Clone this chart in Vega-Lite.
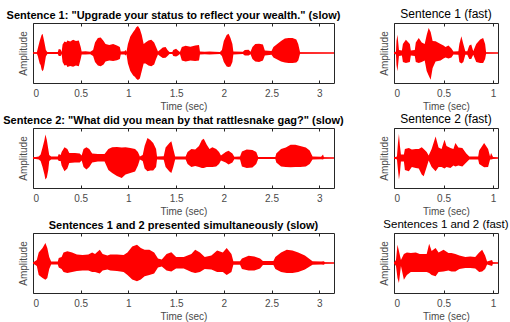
{
"$schema": "https://vega.github.io/schema/vega-lite/v6.json",
"padding": {"left": 2, "top": 7, "right": 0, "bottom": 0},
"background": "white",
"config": {
  "font": "Liberation Sans",
  "view": {"stroke": "#262626", "strokeWidth": 1},
  "axis": {"grid": false, "domain": false, "format": "~g", "labelFont": "Liberation Sans", "titleFont": "Liberation Sans", "labelFontSize": 10, "titleFontSize": 10, "titleFontWeight": "normal", "labelColor": "#4a4a4a", "titleColor": "#4a4a4a", "tickColor": "#262626", "tickSize": -3, "labelPadding": 8, "titlePadding": 3},
  "title": {"font": "Liberation Sans", "color": "#000000", "offset": 2}
},
"datasets": {
"s1": [
{"t":0,"hi":0.02,"lo":-0.02},{"t":0.04,"hi":0.02,"lo":-0.02},{"t":0.05,"hi":0.15,"lo":-0.1},{"t":0.07,"hi":0.4,"lo":-0.35},{"t":0.08,"hi":0.5,"lo":-0.4},{"t":0.09,"hi":0.6,"lo":-0.55},{"t":0.1,"hi":0.64,"lo":-0.61},{"t":0.11,"hi":0.5,"lo":-0.55},{"t":0.12,"hi":0.35,"lo":-0.4},{"t":0.135,"hi":0.1,"lo":-0.12},{"t":0.15,"hi":0.03,"lo":-0.03},{"t":0.26,"hi":0.03,"lo":-0.03},{"t":0.27,"hi":0.13,"lo":-0.1},{"t":0.29,"hi":0.12,"lo":-0.1},{"t":0.3,"hi":0.03,"lo":-0.03},{"t":0.31,"hi":0.28,"lo":-0.3},{"t":0.33,"hi":0.38,"lo":-0.42},{"t":0.35,"hi":0.36,"lo":-0.4},{"t":0.36,"hi":0.42,"lo":-0.47},{"t":0.39,"hi":0.38,"lo":-0.43},{"t":0.42,"hi":0.44,"lo":-0.46},{"t":0.45,"hi":0.4,"lo":-0.42},{"t":0.48,"hi":0.42,"lo":-0.44},{"t":0.5,"hi":0.2,"lo":-0.2},{"t":0.51,"hi":0.05,"lo":-0.05},{"t":0.55,"hi":0.06,"lo":-0.05},{"t":0.6,"hi":0.04,"lo":-0.04},{"t":0.63,"hi":0.1,"lo":-0.1},{"t":0.65,"hi":0.35,"lo":-0.3},{"t":0.68,"hi":0.5,"lo":-0.42},{"t":0.71,"hi":0.52,"lo":-0.44},{"t":0.74,"hi":0.4,"lo":-0.38},{"t":0.76,"hi":0.3,"lo":-0.28},{"t":0.8,"hi":0.27,"lo":-0.25},{"t":0.84,"hi":0.3,"lo":-0.27},{"t":0.88,"hi":0.25,"lo":-0.24},{"t":0.91,"hi":0.2,"lo":-0.2},{"t":0.92,"hi":0.05,"lo":-0.05},{"t":0.96,"hi":0.06,"lo":-0.05},{"t":0.97,"hi":0.1,"lo":-0.08},{"t":0.98,"hi":0.04,"lo":-0.04},{"t":0.995,"hi":0.3,"lo":-0.35},{"t":1.02,"hi":0.55,"lo":-0.6},{"t":1.05,"hi":0.7,"lo":-0.75},{"t":1.07,"hi":0.78,"lo":-0.8},{"t":1.08,"hi":0.85,"lo":-0.85},{"t":1.1,"hi":0.9,"lo":-0.9},{"t":1.12,"hi":0.8,"lo":-0.85},{"t":1.14,"hi":0.6,"lo":-0.6},{"t":1.16,"hi":0.3,"lo":-0.35},{"t":1.18,"hi":0.35,"lo":-0.35},{"t":1.21,"hi":0.42,"lo":-0.42},{"t":1.24,"hi":0.44,"lo":-0.44},{"t":1.27,"hi":0.35,"lo":-0.38},{"t":1.29,"hi":0.2,"lo":-0.2},{"t":1.31,"hi":0.05,"lo":-0.05},{"t":1.33,"hi":0.1,"lo":-0.1},{"t":1.36,"hi":0.18,"lo":-0.17},{"t":1.39,"hi":0.2,"lo":-0.16},{"t":1.41,"hi":0.1,"lo":-0.1},{"t":1.43,"hi":0.03,"lo":-0.03},{"t":1.46,"hi":0.03,"lo":-0.03},{"t":1.47,"hi":0.1,"lo":-0.1},{"t":1.5,"hi":0.14,"lo":-0.12},{"t":1.52,"hi":0.08,"lo":-0.08},{"t":1.54,"hi":0.03,"lo":-0.03},{"t":1.56,"hi":0.2,"lo":-0.25},{"t":1.6,"hi":0.24,"lo":-0.28},{"t":1.65,"hi":0.21,"lo":-0.25},{"t":1.7,"hi":0.25,"lo":-0.27},{"t":1.74,"hi":0.27,"lo":-0.25},{"t":1.75,"hi":0.05,"lo":-0.05},{"t":1.8,"hi":0.04,"lo":-0.04},{"t":1.85,"hi":0.05,"lo":-0.05},{"t":1.9,"hi":0.04,"lo":-0.04},{"t":1.96,"hi":0.03,"lo":-0.03},{"t":1.98,"hi":0.1,"lo":-0.1},{"t":2.0,"hi":0.4,"lo":-0.3},{"t":2.03,"hi":0.6,"lo":-0.45},{"t":2.05,"hi":0.64,"lo":-0.47},{"t":2.07,"hi":0.5,"lo":-0.45},{"t":2.09,"hi":0.3,"lo":-0.3},{"t":2.1,"hi":0.05,"lo":-0.05},{"t":2.2,"hi":0.04,"lo":-0.03},{"t":2.22,"hi":0.1,"lo":-0.08},{"t":2.26,"hi":0.11,"lo":-0.08},{"t":2.28,"hi":0.04,"lo":-0.04},{"t":2.3,"hi":0.2,"lo":-0.2},{"t":2.33,"hi":0.3,"lo":-0.28},{"t":2.37,"hi":0.31,"lo":-0.3},{"t":2.41,"hi":0.28,"lo":-0.25},{"t":2.43,"hi":0.08,"lo":-0.08},{"t":2.5,"hi":0.07,"lo":-0.06},{"t":2.52,"hi":0.2,"lo":-0.15},{"t":2.56,"hi":0.3,"lo":-0.22},{"t":2.6,"hi":0.4,"lo":-0.28},{"t":2.64,"hi":0.48,"lo":-0.32},{"t":2.68,"hi":0.5,"lo":-0.33},{"t":2.72,"hi":0.5,"lo":-0.33},{"t":2.76,"hi":0.45,"lo":-0.32},{"t":2.78,"hi":0.3,"lo":-0.25},{"t":2.8,"hi":0.02,"lo":-0.02},{"t":3.155,"hi":0.0,"lo":0.0}
],
"s2": [
{"t":0,"hi":0.02,"lo":-0.02},{"t":0.06,"hi":0.05,"lo":-0.05},{"t":0.08,"hi":0.12,"lo":-0.1},{"t":0.1,"hi":0.35,"lo":-0.3},{"t":0.12,"hi":0.6,"lo":-0.55},{"t":0.13,"hi":0.78,"lo":-0.72},{"t":0.145,"hi":0.6,"lo":-0.65},{"t":0.16,"hi":0.3,"lo":-0.4},{"t":0.17,"hi":0.1,"lo":-0.1},{"t":0.19,"hi":0.05,"lo":-0.05},{"t":0.26,"hi":0.05,"lo":-0.05},{"t":0.27,"hi":0.13,"lo":-0.1},{"t":0.29,"hi":0.1,"lo":-0.1},{"t":0.3,"hi":0.2,"lo":-0.25},{"t":0.33,"hi":0.36,"lo":-0.44},{"t":0.36,"hi":0.3,"lo":-0.35},{"t":0.38,"hi":0.17,"lo":-0.17},{"t":0.44,"hi":0.17,"lo":-0.15},{"t":0.49,"hi":0.15,"lo":-0.15},{"t":0.51,"hi":0.08,"lo":-0.08},{"t":0.53,"hi":0.3,"lo":-0.3},{"t":0.56,"hi":0.36,"lo":-0.38},{"t":0.59,"hi":0.3,"lo":-0.3},{"t":0.62,"hi":0.15,"lo":-0.15},{"t":0.68,"hi":0.13,"lo":-0.12},{"t":0.75,"hi":0.13,"lo":-0.12},{"t":0.79,"hi":0.3,"lo":-0.4},{"t":0.83,"hi":0.36,"lo":-0.5},{"t":0.88,"hi":0.37,"lo":-0.6},{"t":0.93,"hi":0.35,"lo":-0.67},{"t":0.97,"hi":0.36,"lo":-0.55},{"t":1.02,"hi":0.33,"lo":-0.5},{"t":1.07,"hi":0.3,"lo":-0.45},{"t":1.1,"hi":0.2,"lo":-0.25},{"t":1.12,"hi":0.05,"lo":-0.05},{"t":1.15,"hi":0.1,"lo":-0.1},{"t":1.17,"hi":0.4,"lo":-0.35},{"t":1.2,"hi":0.67,"lo":-0.44},{"t":1.23,"hi":0.6,"lo":-0.42},{"t":1.26,"hi":0.5,"lo":-0.42},{"t":1.29,"hi":0.3,"lo":-0.3},{"t":1.3,"hi":0.05,"lo":-0.05},{"t":1.37,"hi":0.06,"lo":-0.06},{"t":1.39,"hi":0.35,"lo":-0.3},{"t":1.43,"hi":0.5,"lo":-0.45},{"t":1.45,"hi":0.56,"lo":-0.5},{"t":1.47,"hi":0.3,"lo":-0.3},{"t":1.49,"hi":0.05,"lo":-0.05},{"t":1.6,"hi":0.05,"lo":-0.05},{"t":1.62,"hi":0.2,"lo":-0.2},{"t":1.66,"hi":0.3,"lo":-0.3},{"t":1.7,"hi":0.28,"lo":-0.27},{"t":1.74,"hi":0.4,"lo":-0.3},{"t":1.77,"hi":0.6,"lo":-0.33},{"t":1.79,"hi":0.64,"lo":-0.33},{"t":1.82,"hi":0.45,"lo":-0.3},{"t":1.85,"hi":0.3,"lo":-0.3},{"t":1.88,"hi":0.36,"lo":-0.3},{"t":1.92,"hi":0.3,"lo":-0.28},{"t":1.95,"hi":0.2,"lo":-0.2},{"t":1.97,"hi":0.08,"lo":-0.08},{"t":2.02,"hi":0.2,"lo":-0.15},{"t":2.05,"hi":0.24,"lo":-0.22},{"t":2.09,"hi":0.15,"lo":-0.15},{"t":2.11,"hi":0.04,"lo":-0.04},{"t":2.17,"hi":0.05,"lo":-0.05},{"t":2.19,"hi":0.22,"lo":-0.28},{"t":2.24,"hi":0.28,"lo":-0.33},{"t":2.3,"hi":0.27,"lo":-0.32},{"t":2.34,"hi":0.2,"lo":-0.2},{"t":2.36,"hi":0.03,"lo":-0.03},{"t":2.54,"hi":0.03,"lo":-0.03},{"t":2.55,"hi":0.15,"lo":-0.15},{"t":2.6,"hi":0.3,"lo":-0.28},{"t":2.65,"hi":0.35,"lo":-0.3},{"t":2.7,"hi":0.44,"lo":-0.31},{"t":2.75,"hi":0.44,"lo":-0.3},{"t":2.8,"hi":0.4,"lo":-0.3},{"t":2.86,"hi":0.35,"lo":-0.28},{"t":2.9,"hi":0.25,"lo":-0.2},{"t":2.93,"hi":0.05,"lo":-0.05},{"t":3.02,"hi":0.04,"lo":-0.04},{"t":3.04,"hi":0.12,"lo":-0.05},{"t":3.05,"hi":0.02,"lo":-0.02},{"t":3.155,"hi":0.0,"lo":0.0}
],
"s3": [
{"t":0,"hi":0.02,"lo":-0.02},{"t":0.04,"hi":0.1,"lo":-0.1},{"t":0.06,"hi":0.35,"lo":-0.4},{"t":0.1,"hi":0.5,"lo":-0.5},{"t":0.13,"hi":0.67,"lo":-0.56},{"t":0.15,"hi":0.5,"lo":-0.5},{"t":0.17,"hi":0.2,"lo":-0.2},{"t":0.19,"hi":0.05,"lo":-0.05},{"t":0.26,"hi":0.05,"lo":-0.05},{"t":0.27,"hi":0.17,"lo":-0.15},{"t":0.3,"hi":0.2,"lo":-0.2},{"t":0.32,"hi":0.35,"lo":-0.3},{"t":0.36,"hi":0.39,"lo":-0.33},{"t":0.41,"hi":0.35,"lo":-0.3},{"t":0.46,"hi":0.28,"lo":-0.27},{"t":0.52,"hi":0.27,"lo":-0.25},{"t":0.58,"hi":0.28,"lo":-0.25},{"t":0.62,"hi":0.35,"lo":-0.3},{"t":0.65,"hi":0.3,"lo":-0.3},{"t":0.7,"hi":0.44,"lo":-0.35},{"t":0.73,"hi":0.3,"lo":-0.25},{"t":0.78,"hi":0.25,"lo":-0.22},{"t":0.81,"hi":0.28,"lo":-0.25},{"t":0.88,"hi":0.28,"lo":-0.27},{"t":0.95,"hi":0.27,"lo":-0.3},{"t":0.99,"hi":0.35,"lo":-0.4},{"t":1.04,"hi":0.55,"lo":-0.55},{"t":1.09,"hi":0.61,"lo":-0.61},{"t":1.13,"hi":0.5,"lo":-0.55},{"t":1.17,"hi":0.44,"lo":-0.44},{"t":1.22,"hi":0.44,"lo":-0.4},{"t":1.27,"hi":0.35,"lo":-0.35},{"t":1.31,"hi":0.15,"lo":-0.15},{"t":1.35,"hi":0.12,"lo":-0.12},{"t":1.4,"hi":0.3,"lo":-0.25},{"t":1.45,"hi":0.36,"lo":-0.28},{"t":1.5,"hi":0.2,"lo":-0.18},{"t":1.58,"hi":0.2,"lo":-0.18},{"t":1.66,"hi":0.3,"lo":-0.3},{"t":1.7,"hi":0.44,"lo":-0.33},{"t":1.75,"hi":0.35,"lo":-0.3},{"t":1.8,"hi":0.2,"lo":-0.2},{"t":1.87,"hi":0.25,"lo":-0.22},{"t":1.93,"hi":0.42,"lo":-0.3},{"t":1.99,"hi":0.35,"lo":-0.3},{"t":2.03,"hi":0.5,"lo":-0.4},{"t":2.08,"hi":0.3,"lo":-0.3},{"t":2.1,"hi":0.06,"lo":-0.06},{"t":2.17,"hi":0.06,"lo":-0.06},{"t":2.19,"hi":0.15,"lo":-0.2},{"t":2.26,"hi":0.24,"lo":-0.25},{"t":2.32,"hi":0.22,"lo":-0.25},{"t":2.38,"hi":0.15,"lo":-0.18},{"t":2.41,"hi":0.07,"lo":-0.07},{"t":2.52,"hi":0.07,"lo":-0.07},{"t":2.54,"hi":0.2,"lo":-0.2},{"t":2.6,"hi":0.35,"lo":-0.3},{"t":2.66,"hi":0.44,"lo":-0.33},{"t":2.72,"hi":0.42,"lo":-0.33},{"t":2.78,"hi":0.35,"lo":-0.3},{"t":2.85,"hi":0.25,"lo":-0.22},{"t":2.93,"hi":0.06,"lo":-0.06},{"t":3.02,"hi":0.05,"lo":-0.05},{"t":3.05,"hi":0.06,"lo":-0.06},{"t":3.06,"hi":0.02,"lo":-0.02},{"t":3.155,"hi":0.0,"lo":0.0}
],
"f1": [
{"t":0,"hi":0.02,"lo":-0.02},{"t":0.02,"hi":0.05,"lo":-0.05},{"t":0.025,"hi":0.4,"lo":-0.4},{"t":0.035,"hi":0.61,"lo":-0.61},{"t":0.05,"hi":0.1,"lo":-0.1},{"t":0.08,"hi":0.08,"lo":-0.08},{"t":0.09,"hi":0.3,"lo":-0.3},{"t":0.12,"hi":0.44,"lo":-0.33},{"t":0.16,"hi":0.3,"lo":-0.3},{"t":0.17,"hi":0.08,"lo":-0.08},{"t":0.21,"hi":0.1,"lo":-0.1},{"t":0.22,"hi":0.35,"lo":-0.3},{"t":0.25,"hi":0.5,"lo":-0.33},{"t":0.28,"hi":0.35,"lo":-0.3},{"t":0.31,"hi":0.3,"lo":-0.25},{"t":0.33,"hi":0.6,"lo":-0.6},{"t":0.35,"hi":0.83,"lo":-0.75},{"t":0.37,"hi":0.7,"lo":-0.89},{"t":0.39,"hi":0.4,"lo":-0.5},{"t":0.42,"hi":0.39,"lo":-0.28},{"t":0.47,"hi":0.3,"lo":-0.25},{"t":0.5,"hi":0.25,"lo":-0.18},{"t":0.52,"hi":0.2,"lo":-0.15},{"t":0.55,"hi":0.25,"lo":-0.18},{"t":0.58,"hi":0.15,"lo":-0.15},{"t":0.6,"hi":0.05,"lo":-0.05},{"t":0.65,"hi":0.06,"lo":-0.06},{"t":0.66,"hi":0.3,"lo":-0.3},{"t":0.68,"hi":0.56,"lo":-0.35},{"t":0.7,"hi":0.3,"lo":-0.3},{"t":0.72,"hi":0.06,"lo":-0.06},{"t":0.74,"hi":0.06,"lo":-0.06},{"t":0.76,"hi":0.25,"lo":-0.2},{"t":0.78,"hi":0.28,"lo":-0.2},{"t":0.8,"hi":0.06,"lo":-0.06},{"t":0.83,"hi":0.3,"lo":-0.3},{"t":0.87,"hi":0.45,"lo":-0.33},{"t":0.9,"hi":0.5,"lo":-0.33},{"t":0.92,"hi":0.3,"lo":-0.2},{"t":0.93,"hi":0.02,"lo":-0.02},{"t":1.05,"hi":0.0,"lo":0.0}
],
"f2": [
{"t":0,"hi":0.02,"lo":-0.02},{"t":0.03,"hi":0.05,"lo":-0.05},{"t":0.04,"hi":0.5,"lo":-0.4},{"t":0.05,"hi":0.8,"lo":-0.72},{"t":0.06,"hi":0.4,"lo":-0.5},{"t":0.07,"hi":0.12,"lo":-0.12},{"t":0.1,"hi":0.12,"lo":-0.12},{"t":0.11,"hi":0.3,"lo":-0.4},{"t":0.15,"hi":0.33,"lo":-0.44},{"t":0.18,"hi":0.28,"lo":-0.3},{"t":0.22,"hi":0.3,"lo":-0.33},{"t":0.25,"hi":0.3,"lo":-0.35},{"t":0.28,"hi":0.36,"lo":-0.55},{"t":0.3,"hi":0.3,"lo":-0.61},{"t":0.33,"hi":0.2,"lo":-0.3},{"t":0.35,"hi":0.08,"lo":-0.08},{"t":0.38,"hi":0.3,"lo":-0.3},{"t":0.42,"hi":0.72,"lo":-0.44},{"t":0.45,"hi":0.35,"lo":-0.3},{"t":0.48,"hi":0.3,"lo":-0.3},{"t":0.51,"hi":0.61,"lo":-0.35},{"t":0.53,"hi":0.4,"lo":-0.3},{"t":0.57,"hi":0.33,"lo":-0.33},{"t":0.6,"hi":0.3,"lo":-0.25},{"t":0.62,"hi":0.5,"lo":-0.28},{"t":0.65,"hi":0.35,"lo":-0.25},{"t":0.69,"hi":0.33,"lo":-0.28},{"t":0.73,"hi":0.15,"lo":-0.15},{"t":0.76,"hi":0.05,"lo":-0.05},{"t":0.85,"hi":0.05,"lo":-0.05},{"t":0.86,"hi":0.25,"lo":-0.2},{"t":0.91,"hi":0.5,"lo":-0.31},{"t":0.95,"hi":0.3,"lo":-0.3},{"t":0.97,"hi":0.05,"lo":-0.05},{"t":0.98,"hi":0.17,"lo":-0.05},{"t":1.0,"hi":0.03,"lo":-0.03},{"t":1.05,"hi":0.0,"lo":0.0}
],
"f3": [
{"t":0,"hi":0.02,"lo":-0.02},{"t":0.02,"hi":0.1,"lo":-0.1},{"t":0.035,"hi":0.61,"lo":-0.5},{"t":0.05,"hi":0.4,"lo":-0.67},{"t":0.07,"hi":0.1,"lo":-0.1},{"t":0.1,"hi":0.3,"lo":-0.56},{"t":0.13,"hi":0.35,"lo":-0.4},{"t":0.17,"hi":0.33,"lo":-0.3},{"t":0.22,"hi":0.35,"lo":-0.3},{"t":0.26,"hi":0.3,"lo":-0.3},{"t":0.33,"hi":0.3,"lo":-0.3},{"t":0.355,"hi":0.64,"lo":-0.33},{"t":0.38,"hi":0.4,"lo":-0.4},{"t":0.42,"hi":0.5,"lo":-0.44},{"t":0.45,"hi":0.35,"lo":-0.3},{"t":0.5,"hi":0.44,"lo":-0.28},{"t":0.55,"hi":0.33,"lo":-0.25},{"t":0.58,"hi":0.33,"lo":-0.28},{"t":0.62,"hi":0.3,"lo":-0.28},{"t":0.66,"hi":0.25,"lo":-0.2},{"t":0.72,"hi":0.2,"lo":-0.17},{"t":0.77,"hi":0.22,"lo":-0.17},{"t":0.82,"hi":0.2,"lo":-0.18},{"t":0.86,"hi":0.35,"lo":-0.3},{"t":0.89,"hi":0.44,"lo":-0.28},{"t":0.92,"hi":0.25,"lo":-0.2},{"t":0.94,"hi":0.05,"lo":-0.05},{"t":0.99,"hi":0.1,"lo":-0.1},{"t":1.0,"hi":0.02,"lo":-0.02},{"t":1.05,"hi":0.0,"lo":0.0}
]
},
"columns": 2,
"spacing": {"row": 45, "column": 60},
"bounds": "flush",
"concat": [
 {"width": 301, "height": 60, "data": {"name": "s1"},
  "title": {"text": "Sentence 1: \"Upgrade your status to reflect your wealth.\" (slow)", "fontSize": 11, "fontWeight": "bold", "dx": -10},
  "layer": [
   {"mark": {"type": "area", "color": "#ff0000"}, "encoding": {"x": {"field": "t", "type": "quantitative", "scale": {"domain": [0, 3.155], "nice": false, "zero": false}, "axis": {"title": "Time (sec)", "values": [0, 0.5, 1, 1.5, 2, 2.5, 3]}}, "y": {"field": "hi", "type": "quantitative", "scale": {"domain": [-1, 1]}, "axis": {"title": "Amplitude", "ticks": false, "labels": false, "titlePadding": 5}}, "y2": {"field": "lo"}}},
   {"mark": {"type": "line", "color": "#ff0000", "strokeWidth": 1.3}, "encoding": {"x": {"field": "t", "type": "quantitative", "scale": {"domain": [0, 3.155], "nice": false, "zero": false}, "axis": {"orient": "top", "title": null, "labels": false, "values": [0, 0.5, 1, 1.5, 2, 2.5, 3]}}, "y": {"datum": 0, "type": "quantitative"}}}
  ],
  "resolve": {"axis": {"x": "independent"}}
 },
 {"width": 104, "height": 60, "data": {"name": "f1"},
  "title": {"text": "Sentence 1 (fast)", "fontSize": 12, "fontWeight": "normal"},
  "layer": [
   {"mark": {"type": "area", "color": "#ff0000"}, "encoding": {"x": {"field": "t", "type": "quantitative", "scale": {"domain": [0, 1.05], "nice": false, "zero": false}, "axis": {"title": "Time (sec)", "values": [0, 0.5, 1]}}, "y": {"field": "hi", "type": "quantitative", "scale": {"domain": [-1, 1]}, "axis": {"title": "Amplitude", "ticks": false, "labels": false, "titlePadding": 5}}, "y2": {"field": "lo"}}},
   {"mark": {"type": "line", "color": "#ff0000", "strokeWidth": 1.3}, "encoding": {"x": {"field": "t", "type": "quantitative", "scale": {"domain": [0, 1.05], "nice": false, "zero": false}, "axis": {"orient": "top", "title": null, "labels": false, "values": [0, 0.5, 1]}}, "y": {"datum": 0, "type": "quantitative"}}}
  ],
  "resolve": {"axis": {"x": "independent"}}
 },
 {"width": 301, "height": 60, "data": {"name": "s2"},
  "title": {"text": "Sentence 2: \"What did you mean by that rattlesnake gag?\" (slow)", "fontSize": 11, "fontWeight": "bold", "dx": -10},
  "layer": [
   {"mark": {"type": "area", "color": "#ff0000"}, "encoding": {"x": {"field": "t", "type": "quantitative", "scale": {"domain": [0, 3.155], "nice": false, "zero": false}, "axis": {"title": "Time (sec)", "values": [0, 0.5, 1, 1.5, 2, 2.5, 3]}}, "y": {"field": "hi", "type": "quantitative", "scale": {"domain": [-1, 1]}, "axis": {"title": "Amplitude", "ticks": false, "labels": false, "titlePadding": 5}}, "y2": {"field": "lo"}}},
   {"mark": {"type": "line", "color": "#ff0000", "strokeWidth": 1.3}, "encoding": {"x": {"field": "t", "type": "quantitative", "scale": {"domain": [0, 3.155], "nice": false, "zero": false}, "axis": {"orient": "top", "title": null, "labels": false, "values": [0, 0.5, 1, 1.5, 2, 2.5, 3]}}, "y": {"datum": 0, "type": "quantitative"}}}
  ],
  "resolve": {"axis": {"x": "independent"}}
 },
 {"width": 104, "height": 60, "data": {"name": "f2"},
  "title": {"text": "Sentence 2 (fast)", "fontSize": 12, "fontWeight": "normal"},
  "layer": [
   {"mark": {"type": "area", "color": "#ff0000"}, "encoding": {"x": {"field": "t", "type": "quantitative", "scale": {"domain": [0, 1.05], "nice": false, "zero": false}, "axis": {"title": "Time (sec)", "values": [0, 0.5, 1]}}, "y": {"field": "hi", "type": "quantitative", "scale": {"domain": [-1, 1]}, "axis": {"title": "Amplitude", "ticks": false, "labels": false, "titlePadding": 5}}, "y2": {"field": "lo"}}},
   {"mark": {"type": "line", "color": "#ff0000", "strokeWidth": 1.3}, "encoding": {"x": {"field": "t", "type": "quantitative", "scale": {"domain": [0, 1.05], "nice": false, "zero": false}, "axis": {"orient": "top", "title": null, "labels": false, "values": [0, 0.5, 1]}}, "y": {"datum": 0, "type": "quantitative"}}}
  ],
  "resolve": {"axis": {"x": "independent"}}
 },
 {"width": 301, "height": 60, "data": {"name": "s3"},
  "title": {"text": "Sentences 1 and 2 presented simultaneously (slow)", "fontSize": 11, "fontWeight": "bold"},
  "layer": [
   {"mark": {"type": "area", "color": "#ff0000"}, "encoding": {"x": {"field": "t", "type": "quantitative", "scale": {"domain": [0, 3.155], "nice": false, "zero": false}, "axis": {"title": "Time (sec)", "values": [0, 0.5, 1, 1.5, 2, 2.5, 3]}}, "y": {"field": "hi", "type": "quantitative", "scale": {"domain": [-1, 1]}, "axis": {"title": "Amplitude", "ticks": false, "labels": false, "titlePadding": 5}}, "y2": {"field": "lo"}}},
   {"mark": {"type": "line", "color": "#ff0000", "strokeWidth": 1.3}, "encoding": {"x": {"field": "t", "type": "quantitative", "scale": {"domain": [0, 3.155], "nice": false, "zero": false}, "axis": {"orient": "top", "title": null, "labels": false, "values": [0, 0.5, 1, 1.5, 2, 2.5, 3]}}, "y": {"datum": 0, "type": "quantitative"}}}
  ],
  "resolve": {"axis": {"x": "independent"}}
 },
 {"width": 104, "height": 60, "data": {"name": "f3"},
  "title": {"text": "Sentences 1 and 2 (fast)", "fontSize": 11.5, "fontWeight": "normal"},
  "layer": [
   {"mark": {"type": "area", "color": "#ff0000"}, "encoding": {"x": {"field": "t", "type": "quantitative", "scale": {"domain": [0, 1.05], "nice": false, "zero": false}, "axis": {"title": "Time (sec)", "values": [0, 0.5, 1]}}, "y": {"field": "hi", "type": "quantitative", "scale": {"domain": [-1, 1]}, "axis": {"title": "Amplitude", "ticks": false, "labels": false, "titlePadding": 5}}, "y2": {"field": "lo"}}},
   {"mark": {"type": "line", "color": "#ff0000", "strokeWidth": 1.3}, "encoding": {"x": {"field": "t", "type": "quantitative", "scale": {"domain": [0, 1.05], "nice": false, "zero": false}, "axis": {"orient": "top", "title": null, "labels": false, "values": [0, 0.5, 1]}}, "y": {"datum": 0, "type": "quantitative"}}}
  ],
  "resolve": {"axis": {"x": "independent"}}
 }
]
}
